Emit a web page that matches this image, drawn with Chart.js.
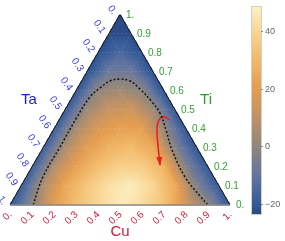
<!DOCTYPE html>
<html>
<head>
<meta charset="utf-8">
<script src="https://cdn.jsdelivr.net/npm/chart.js@4.4.1/dist/chart.umd.min.js"></script>
<style>
  html, body { margin: 0; padding: 0; background: #fff; }
</style>
</head>
<body>
<canvas id="chart" width="285" height="241"></canvas>
<script>
// field values on the 0.1 composition grid; one row per Ti level, Cu = 0 .. 1-Ti
const ti00 = [-20, -1, 20, 32, 40, 46, 42, 33, 15, 0, -20];
const ti01 = [-19, 6, 24, 35, 43, 47, 40, 25, -4, -20];
const ti02 = [-19, 7, 22, 32, 38, 37, 28, -4, -20];
const ti03 = [-19, 6, 20, 28, 31, 25, -3, -21];
const ti04 = [-19, 5, 17, 22, 21, 1, -21];
const ti05 = [-20, 3, 12, 14, 3, -21];
const ti06 = [-21, 0, 4, -1, -22];
const ti07 = [-22, -8, -8, -22];
const ti08 = [-22, -15, -22];
const ti09 = [-23, -23];
const ti10 = [-23];
const fieldRows = [ti00, ti01, ti02, ti03, ti04, ti05, ti06, ti07, ti08, ti09, ti10];

// zero contour (dashed) as (Cu, Ti)
const contourCu = [0.105, 0.076, 0.075, 0.074, 0.080, 0.102, 0.129, 0.169, 0.220, 0.286, 0.375, 0.440, 0.512, 0.592, 0.722, 0.840, 0.900];
const contourTi = [0.000, 0.147, 0.304, 0.462, 0.567, 0.614, 0.651, 0.661, 0.651, 0.609, 0.541, 0.483, 0.394, 0.289, 0.147, 0.047, 0.000];

// red path with arrow
const pathCu = [0.504, 0.474, 0.457, 0.455, 0.471, 0.515, 0.577];
const pathTi = [0.446, 0.462, 0.459, 0.436, 0.394, 0.315, 0.210];

const tickValues = [0, 0.1, 0.2, 0.3, 0.4, 0.5, 0.6, 0.7, 0.8, 0.9, 1];
const tickLabels = ['0.', '0.1', '0.2', '0.3', '0.4', '0.5', '0.6', '0.7', '0.8', '0.9', '1.'];

const cbMin = -23.4, cbMax = 48.3;
const cbTicks = [-20, 0, 20, 40];
const cbTickLabels = ['\u221220', '0', '20', '40'];

// colour map stops
const cmapVals = [-23.4, -20, -10, 0, 10, 20, 30, 40, 48.3];
const cmapCols = [[42,74,132],[52,90,152],[100,118,160],[145,134,124],[192,146,102],[229,157,80],[242,185,105],[249,214,148],[253,241,198]];

const H = Math.sqrt(3) / 2;
const tern = (cu, ti) => ({ x: cu + ti / 2, y: ti * H });

function colourOf(v) {
  if (v <= cmapVals[0]) return cmapCols[0];
  for (let k = 1; k < cmapVals.length; k++) {
    if (v <= cmapVals[k]) {
      const f = (v - cmapVals[k-1]) / (cmapVals[k] - cmapVals[k-1]);
      const a = cmapCols[k-1], b = cmapCols[k];
      return [a[0] + (b[0]-a[0])*f, a[1] + (b[1]-a[1])*f, a[2] + (b[2]-a[2])*f];
    }
  }
  return cmapCols[cmapCols.length - 1];
}

function node(i, j) {
  const row = fieldRows[Math.min(Math.max(j, 0), 10)];
  return row[Math.min(Math.max(i, 0), row.length - 1)];
}

function fieldAt(cu, ti) {
  const fc = cu * 10, ft = ti * 10;
  let i = Math.floor(fc), j = Math.floor(ft);
  let u = fc - i, v = ft - j;
  if (i + j >= 10) return node(10 - j, j);
  if (u + v <= 1 || i + j >= 9) {
    if (u + v > 1) { const s = u + v; u /= s; v /= s; }
    return node(i, j) * (1 - u - v) + node(i + 1, j) * u + node(i, j + 1) * v;
  }
  return node(i + 1, j + 1) * (u + v - 1) + node(i + 1, j) * (1 - v) + node(i, j + 1) * (1 - u);
}

const ternaryPlugin = {
  id: 'ternary',
  beforeDatasetsDraw(chart) {
    const { ctx, chartArea: ca, scales } = chart;
    const xs = scales.x, ys = scales.y;
    const w = Math.ceil(ca.right - ca.left), h = Math.ceil(ca.bottom - ca.top) + 1;
    const vals = new Float32Array(w * h), inside = new Uint8Array(w * h);
    for (let py = 0; py < h; py++) {
      for (let px = 0; px < w; px++) {
        const x = xs.getValueForPixel(ca.left + px + 0.5);
        const y = ys.getValueForPixel(ca.top + py + 0.5);
        const ti = y / H, cu = x - ti / 2, ta = 1 - cu - ti;
        if (ti < -0.003 || cu < -0.003 || ta < -0.003) continue;
        inside[py * w + px] = 1;
        vals[py * w + px] = fieldAt(Math.max(cu, 0), Math.max(ti, 0));
      }
    }
    // light smoothing so the grid facets do not show
    const r = 3, sm = new Float32Array(w * h);
    for (let py = 0; py < h; py++) {
      for (let px = 0; px < w; px++) {
        const id = py * w + px;
        if (!inside[id]) continue;
        let s = 0, n = 0;
        for (let dy = -r; dy <= r; dy++) {
          const yy = py + dy; if (yy < 0 || yy >= h) continue;
          for (let dx = -r; dx <= r; dx++) {
            const xx = px + dx; if (xx < 0 || xx >= w) continue;
            const k = yy * w + xx;
            if (inside[k]) { s += vals[k]; n++; }
          }
        }
        sm[id] = s / n;
      }
    }
    const off = document.createElement('canvas');
    off.width = w; off.height = h;
    const octx = off.getContext('2d');
    const img = octx.createImageData(w, h);
    for (let id = 0; id < w * h; id++) {
      if (!inside[id]) continue;
      const col = colourOf(sm[id]);
      img.data[id*4] = col[0]; img.data[id*4+1] = col[1]; img.data[id*4+2] = col[2]; img.data[id*4+3] = 255;
    }
    octx.putImageData(img, 0, 0);
    ctx.drawImage(off, ca.left, ca.top);

    // faint grid
    const P = (cu, ti) => { const q = tern(cu, ti); return [xs.getPixelForValue(q.x), ys.getPixelForValue(q.y)]; };
    ctx.save();
    ctx.strokeStyle = 'rgba(255,255,255,0.14)';
    ctx.lineWidth = 0.8;
    ctx.setLineDash([2, 2]);
    for (let k = 1; k < 10; k++) {
      const g = k / 10;
      const segs = [
        [P(g, 0), P(g, 1 - g)],           // constant Cu
        [P(0, g), P(1 - g, g)],           // constant Ti
        [P(1 - g, 0), P(0, 1 - g)]        // constant Ta
      ];
      segs.forEach(([a, b]) => { ctx.beginPath(); ctx.moveTo(a[0], a[1]); ctx.lineTo(b[0], b[1]); ctx.stroke(); });
    }
    ctx.restore();
  },
  afterDatasetsDraw(chart) {
    const { ctx, scales } = chart;
    const xs = scales.x, ys = scales.y;
    const P = (cu, ti) => { const q = tern(cu, ti); return [xs.getPixelForValue(q.x), ys.getPixelForValue(q.y)]; };
    const A = P(0, 0), B = P(1, 0), C = P(0, 1);

    ctx.save();
    // triangle frame
    ctx.strokeStyle = '#1a1a1a';
    ctx.lineWidth = 1;
    ctx.beginPath(); ctx.moveTo(A[0], A[1]); ctx.lineTo(C[0], C[1]); ctx.lineTo(B[0], B[1]); ctx.stroke();
    ctx.strokeStyle = '#888';
    ctx.lineWidth = 1.5;
    ctx.beginPath(); ctx.moveTo(A[0], A[1]); ctx.lineTo(B[0], B[1]); ctx.stroke();

    // arrow head on the red path
    const n = pathCu.length;
    const tip = P(pathCu[n-1], pathTi[n-1]), prev = P(pathCu[n-2], pathTi[n-2]);
    const ang = Math.atan2(tip[1] - prev[1], tip[0] - prev[0]);
    ctx.fillStyle = '#ee1c1c';
    ctx.translate(tip[0], tip[1]); ctx.rotate(ang);
    ctx.beginPath(); ctx.moveTo(1, 0); ctx.lineTo(-8, -3); ctx.lineTo(-8, 3); ctx.closePath(); ctx.fill();
    ctx.setTransform(1, 0, 0, 1, 0, 0);

    ctx.font = '10px "Liberation Sans", Arial, sans-serif';
    ctx.textBaseline = 'middle';
    tickValues.forEach((t, k) => {
      // Ta along left edge
      let p = P(0, 1 - t);
      ctx.save();
      ctx.fillStyle = '#3a3ae8';
      ctx.translate(p[0] - 5.5, p[1] - 1);
      ctx.rotate(55 * Math.PI / 180);
      ctx.textAlign = 'right';
      ctx.fillText(tickLabels[k], 0, 0);
      ctx.restore();
      // Ti along right edge
      p = P(1 - t, t);
      ctx.fillStyle = '#35a035';
      ctx.textAlign = 'left';
      ctx.fillText(tickLabels[k], p[0] + 6, p[1] + 0.5);
      // Cu along bottom
      p = P(t, 0);
      ctx.save();
      ctx.fillStyle = '#d3203e';
      ctx.translate(p[0] + 0.5, p[1] + 8);
      ctx.rotate(-45 * Math.PI / 180);
      ctx.textAlign = 'right';
      ctx.fillText(tickLabels[k], 0, 0);
      ctx.restore();
    });

    ctx.font = '15px "Liberation Sans", Arial, sans-serif';
    ctx.textAlign = 'center';
    ctx.fillStyle = '#1c1ccc'; ctx.fillText('Ta', 29, 100);
    ctx.fillStyle = '#2ca02c'; ctx.fillText('Ti', 206, 100);
    ctx.fillStyle = '#cc1a36'; ctx.fillText('Cu', 120, 232);

    // colour bar
    const bx = 252, bw = 9, bt = 7, bb = 214;
    const vy = v => bb - (v - cbMin) / (cbMax - cbMin) * (bb - bt);
    for (let y = bt; y < bb; y++) {
      const c = colourOf(cbMin + (bb - y - 0.5) / (bb - bt) * (cbMax - cbMin));
      ctx.fillStyle = `rgb(${c[0]|0},${c[1]|0},${c[2]|0})`;
      ctx.fillRect(bx, y, bw, 1);
    }
    ctx.strokeStyle = '#d0d0d0';
    ctx.lineWidth = 1;
    ctx.strokeRect(bx - 0.5, bt - 0.5, bw + 1, bb - bt + 1);
    ctx.font = '9px "Liberation Sans", Arial, sans-serif';
    ctx.textAlign = 'left';
    ctx.fillStyle = '#666';
    ctx.strokeStyle = '#888';
    cbTicks.forEach((v, k) => {
      const y = Math.round(vy(v)) + 0.5;
      ctx.beginPath(); ctx.moveTo(bx + bw, y); ctx.lineTo(bx + bw + 2, y); ctx.stroke();
      ctx.fillText(cbTickLabels[k], bx + bw + 4, y);
    });
    ctx.restore();
  }
};

new Chart(document.getElementById('chart'), {
  type: 'scatter',
  data: {
    datasets: [
      {
        data: contourCu.map((c, i) => tern(c, contourTi[i])),
        showLine: true,
        borderColor: '#111',
        borderWidth: 1.5,
        borderDash: [2, 2],
        pointRadius: 0,
        tension: 0.4,
        fill: false
      },
      {
        data: pathCu.map((c, i) => tern(c, pathTi[i])),
        showLine: true,
        borderColor: '#ee1c1c',
        borderWidth: 1.5,
        pointRadius: 0,
        tension: 0.4,
        fill: false
      }
    ]
  },
  options: {
    responsive: false,
    animation: false,
    layout: { padding: { left: 10, right: 55, top: 14.5, bottom: 36 } },
    scales: {
      x: { type: 'linear', min: 0, max: 1, display: false },
      y: { type: 'linear', min: 0, max: H, display: false }
    },
    plugins: {
      legend: { display: false },
      tooltip: { enabled: false }
    }
  },
  plugins: [ternaryPlugin]
});
</script>
</body>
</html>
